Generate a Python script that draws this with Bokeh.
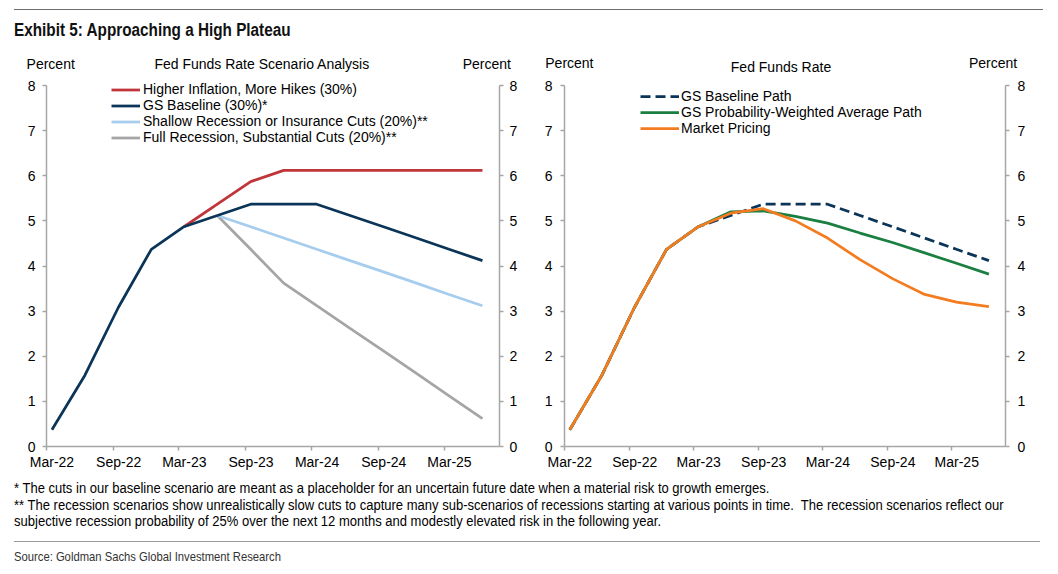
import pandas as pd
from bokeh.plotting import figure
from bokeh.models import (Range1d, LinearAxis, DatetimeAxis, FixedTicker,
                          DatetimeTickFormatter, Legend, LegendItem, Div)
from bokeh.layouts import column, row
from bokeh.embed import file_html
from bokeh.resources import INLINE

# ---------------- data ----------------
quarters = ["2022-03-16", "2022-06-15", "2022-09-15", "2022-12-15",
            "2023-03-15", "2023-06-15", "2023-09-15", "2023-12-15",
            "2024-03-15", "2024-06-15", "2024-09-15", "2024-12-15",
            "2025-03-15", "2025-06-15"]

gs_baseline = [0.37, 1.58, 3.08, 4.37, 4.87, 5.12, 5.37, 5.37, 5.37,
               5.12, 4.87, 4.62, 4.37, 4.12]
# scenarios branch off the baseline (from Mar-23 / Jun-23 onwards)
higher_inflation = [4.87, 5.37, 5.87, 6.12, 6.12, 6.12, 6.12, 6.12, 6.12, 6.12]
shallow_recession = [5.12, 4.87, 4.62, 4.37, 4.12, 3.87, 3.62, 3.37, 3.12]
full_recession = [5.12, 4.37, 3.62, 3.12, 2.62, 2.12, 1.62, 1.12, 0.62]

prob_weighted = [0.37, 1.58, 3.08, 4.37, 4.87, 5.20, 5.22, 5.10, 4.95,
                 4.73, 4.52, 4.29, 4.06, 3.82]
market_pricing = [0.37, 1.58, 3.08, 4.37, 4.87, 5.17, 5.27, 5.00, 4.62,
                  4.14, 3.72, 3.37, 3.20, 3.10]

tick_dates = ["2022-03-01", "2022-09-01", "2023-03-01", "2023-09-01",
              "2024-03-01", "2024-09-01", "2025-03-01"]
label_dates = ["2022-03-16", "2022-09-16", "2023-03-16", "2023-09-16",
               "2024-03-16", "2024-09-16", "2025-03-16"]
y_ticks = [0, 1, 2, 3, 4, 5, 6, 7, 8]
y_max = 8
x_start, x_end = "2022-03-01", "2025-08-01"

labels_left = ["Higher Inflation, More Hikes (30%)", "GS Baseline (30%)*",
               "Shallow Recession or Insurance Cuts (20%)**",
               "Full Recession, Substantial Cuts (20%)**"]
labels_right = ["GS Baseline Path", "GS Probability-Weighted Average Path",
                "Market Pricing"]

# ---------------- helpers ----------------
FONT = "Liberation Sans"
AX = "#A6A6A6"
TOP_DIV_H = 78
FRAME_H = 368          # frame height in px (axis itself spans 361 px: 0..8)
AXIS_PX = 361
TOP_B, BOT_B = 0, 30


def ms(s):
    return int(pd.Timestamp(s).value // 10**6)


X = pd.to_datetime(quarters)


def style_axis(ax, standoff):
    ax.axis_line_color = AX
    ax.axis_line_width = 1.5
    ax.major_tick_line_color = AX
    ax.major_tick_line_width = 1.5
    ax.major_tick_out = 4
    ax.major_tick_in = 0
    ax.minor_tick_line_color = None
    ax.major_label_text_font = FONT
    ax.major_label_text_font_size = "14px"
    ax.major_label_text_color = "#000000"
    ax.major_label_standoff = standoff


def make_fig(bl, br, ys_left, ys_right):
    y_top = y_max * FRAME_H / AXIS_PX
    p = figure(width=529, height=TOP_B + FRAME_H + BOT_B,
               x_axis_type="datetime",
               x_range=Range1d(pd.Timestamp(x_start), pd.Timestamp(x_end)),
               y_range=Range1d(0, y_top), output_backend="svg",
               toolbar_location=None, min_border_left=bl,
               min_border_right=br, min_border_top=TOP_B,
               min_border_bottom=BOT_B)
    p.outline_line_color = None
    p.grid.visible = False
    p.margin = 0
    # x axis with tick marks only
    xa = p.xaxis[0]
    style_axis(xa, 0)
    xa.ticker = FixedTicker(ticks=[ms(d) for d in tick_dates])
    xa.major_label_text_font_size = "1px"
    xa.major_label_text_color = None
    # x axis carrying the labels (mid-month, as in the original)
    fmt = DatetimeTickFormatter(days="%b-%y", months="%b-%y", years="%b-%y")
    xb = DatetimeAxis(ticker=FixedTicker(ticks=[ms(d) for d in label_dates]),
                      formatter=fmt)
    style_axis(xb, 3)
    xb.axis_line_color = None
    xb.major_tick_line_color = None
    xb.major_tick_out = 0
    p.add_layout(xb, "below")
    ya = p.yaxis[0]
    style_axis(ya, ys_left)
    ya.ticker = FixedTicker(ticks=y_ticks)
    ya.bounds = (0, y_max)
    yr = LinearAxis(ticker=FixedTicker(ticks=y_ticks), bounds=(0, y_max))
    style_axis(yr, ys_right)
    p.add_layout(yr, "right")
    return p


# ---------------- left panel ----------------
p1 = make_fig(46, 30, 7, 6)
r_grey = p1.line(X[5:], full_recession, line_color="#A5A5A5", line_width=2.75)
r_lb = p1.line(X[5:], shallow_recession, line_color="#A6CDEE", line_width=2.75)
r_red = p1.line(X[4:], higher_inflation, line_color="#C0353A", line_width=2.75)
r_navy = p1.line(X, gs_baseline, line_color="#0B3558", line_width=2.75)
leg1 = Legend(items=[LegendItem(label=labels_left[0], renderers=[r_red]),
                     LegendItem(label=labels_left[1], renderers=[r_navy]),
                     LegendItem(label=labels_left[2], renderers=[r_lb]),
                     LegendItem(label=labels_left[3], renderers=[r_grey])],
              location=(65, 301), glyph_width=29, glyph_height=15,
              label_height=15, label_standoff=3, spacing=-1, padding=0,
              margin=0, border_line_alpha=0, background_fill_alpha=0,
              label_text_font=FONT, label_text_font_size="14px",
              label_text_color="#000000")
p1.add_layout(leg1)

# ---------------- right panel ----------------
p2 = make_fig(35, 53, 8, 8)
r_base = p2.line(X, gs_baseline, line_color="#0B3558", line_width=2.75,
                 line_dash="10 5")
r_green = p2.line(X, prob_weighted, line_color="#1B7F42", line_width=2.75)
r_orange = p2.line(X, market_pricing, line_color="#F47C20", line_width=2.75)
leg2 = Legend(items=[LegendItem(label=labels_right[0], renderers=[r_base]),
                     LegendItem(label=labels_right[1], renderers=[r_green]),
                     LegendItem(label=labels_right[2], renderers=[r_orange])],
              location=(76, 310), glyph_width=39, glyph_height=16,
              label_height=16, label_standoff=2, spacing=0, padding=0,
              margin=0, border_line_alpha=0, background_fill_alpha=0,
              label_text_font=FONT, label_text_font_size="14px",
              label_text_color="#000000")
p2.add_layout(leg2)

# ---------------- title, headers & notes ----------------
SANS = "'Liberation Sans',Arial,sans-serif"


def head(cx, cy, text, w=320):
    return ('<div style="position:absolute;left:%.1fpx;top:%.1fpx;width:%dpx;'
            'text-align:center;white-space:nowrap;font-family:%s;'
            'font-size:14px;line-height:16px;color:#000;">%s</div>'
            % (cx - w / 2, cy - 8, w, SANS, text))


top_html = (
    '<div style="position:relative;width:1058px;height:%dpx;">' % TOP_DIV_H
    + '<div style="position:absolute;left:14px;top:9px;width:1029px;height:0;'
    'border-top:1px solid #6e6e6e;"></div>'
    '<div style="position:absolute;left:14px;top:19px;white-space:nowrap;'
    f'font-family:{SANS};font-weight:bold;font-size:18px;line-height:22px;'
    'color:#111;transform:scaleX(0.85);transform-origin:0 0;">'
    'Exhibit 5: Approaching a High Plateau</div>'
    + head(50.7, 63.5, "Percent", 100)
    + head(261.8, 63.5, "Fed Funds Rate Scenario Analysis")
    + head(486.8, 63.5, "Percent", 100)
    + head(569.4, 63, "Percent", 100)
    + head(781, 67, "Fed Funds Rate")
    + head(993, 63, "Percent", 100)
    + '</div>')

bottom_html = (
    '<div style="position:relative;width:1058px;height:98px;">'
    '<div style="position:absolute;left:14px;top:4px;white-space:nowrap;'
    f'font-family:{SANS};font-size:14px;line-height:16.5px;color:#000;'
    'transform:scaleX(0.93);transform-origin:0 0;">'
    '* The cuts in our baseline scenario are meant as a placeholder for an '
    'uncertain future date when a material risk to growth emerges.<br>'
    '** The recession scenarios show unrealistically slow cuts to capture many '
    'sub-scenarios of recessions starting at various points in time.&nbsp; '
    'The recession scenarios reflect our<br>'
    'subjective recession probability of 25% over the next 12 months and '
    'modestly elevated risk in the following year.</div>'
    '<div style="position:absolute;left:14px;top:65px;width:1026px;height:0;'
    'border-top:1.5px solid #9a9a9a;"></div>'
    '<div style="position:absolute;left:14px;top:73px;white-space:nowrap;'
    f'font-family:{SANS};font-size:13px;line-height:16px;color:#333;'
    'transform:scaleX(0.865);transform-origin:0 0;">'
    'Source: Goldman Sachs Global Investment Research</div></div>')

top_div = Div(text=top_html, width=1058, height=TOP_DIV_H, margin=0)
bottom_div = Div(text=bottom_html, width=1058, height=98, margin=0)

layout = column(top_div, row(p1, p2, spacing=0), bottom_div, spacing=0)
open("out.html", "w").write(file_html(layout, INLINE))
